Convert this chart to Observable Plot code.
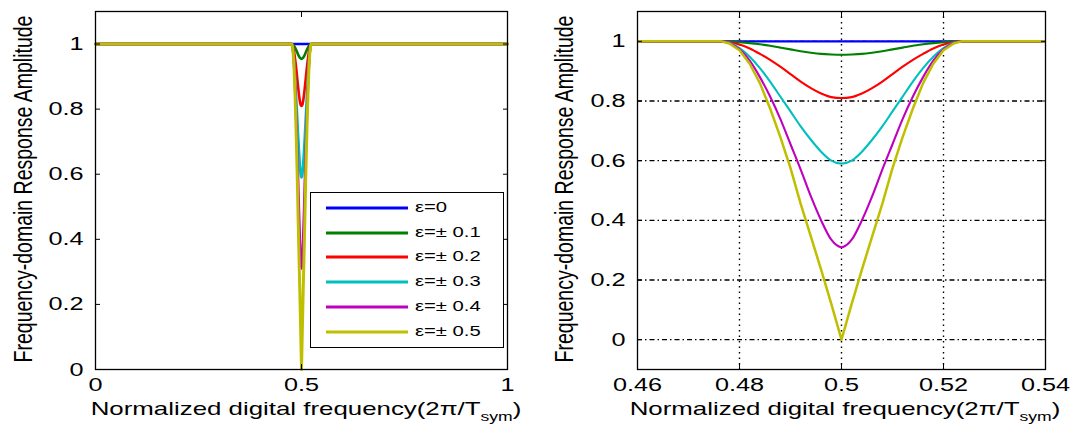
<!DOCTYPE html>
<html><head><meta charset="utf-8">
<script src="https://cdn.jsdelivr.net/npm/d3@7"></script>
<script src="https://cdn.jsdelivr.net/npm/@observablehq/plot@0.6"></script>
<style>
body{margin:0;background:#fff;width:1075px;height:427px;overflow:hidden;position:relative;font-family:"Liberation Sans",Arial,sans-serif;color:#000;}
.panel{position:absolute;top:0;}
.ytitle{position:absolute;font-size:19.5px;white-space:nowrap;transform:translate(-50%,-50%) rotate(-90deg) scaleY(1.3);line-height:1;}
.xtitle{position:absolute;font-size:19px;white-space:nowrap;transform:translateX(-50%) scaleX(1.36);line-height:1;}
.xtitle sub{font-size:0.68em;vertical-align:-0.5em;line-height:0;}
.legend{position:absolute;left:310px;top:192px;width:192px;height:154px;border:1.5px solid #000;background:#fff;}
.lrow{position:absolute;left:0;height:20px;}
.lrow svg{position:absolute;left:14px;top:8px;}
.lrow span{position:absolute;left:104px;top:1px;font-size:15px;white-space:nowrap;transform:scaleX(1.35);transform-origin:left center;}
</style></head>
<body>
<div id="left" class="panel" style="left:0"></div>
<div id="right" class="panel" style="left:540px"></div>
<script>
// ---- data ----
const freq = [0, 0.46, 0.4765, 0.478, 0.480, 0.482, 0.484, 0.486, 0.488, 0.490, 0.492, 0.494, 0.496, 0.498, 0.500,
  0.502, 0.504, 0.506, 0.508, 0.510, 0.512, 0.514, 0.516, 0.518, 0.520, 0.522, 0.5235, 0.54, 1];
const eps0 = [1,1,1, 1,1,1,1,1,1,1,1,1,1,1, 1, 1,1,1,1,1,1,1,1,1,1,1, 1,1,1];
const eps1 = [1,1,1, .999,.997,.994,.99,.985,.979,.973,.967,.962,.958,.956, .955, .956,.958,.962,.967,.973,.979,.985,.99,.994,.997,.999, 1,1,1];
const eps2 = [1,1,1, .997,.989,.976,.958,.938,.915,.89,.865,.843,.825,.813, .81, .813,.825,.843,.865,.89,.915,.938,.958,.976,.989,.997, 1,1,1];
const eps3 = [1,1,1, .995,.977,.948,.91,.865,.815,.765,.715,.67,.63,.60, .59, .60,.63,.67,.715,.765,.815,.865,.91,.948,.977,.995, 1,1,1];
const eps4 = [1,1,1, .994,.973,.935,.88,.815,.74,.655,.57,.48,.40,.335, .31, .335,.40,.48,.57,.655,.74,.815,.88,.935,.973,.994, 1,1,1];
const eps5 = [1,1,1, .993,.97,.925,.86,.775,.68,.575,.455,.345,.235,.12, 0, .12,.235,.345,.455,.575,.68,.775,.86,.925,.97,.993, 1,1,1];
const seriesNames = ["ε=0", "ε=± 0.1", "ε=± 0.2", "ε=± 0.3", "ε=± 0.4", "ε=± 0.5"];
const seriesColors = ["#0000ff", "#008000", "#ff0000", "#00bfbf", "#bf00bf", "#bfbf00"];
const seriesValues = [eps0, eps1, eps2, eps3, eps4, eps5];
const yTicks = [0, 0.2, 0.4, 0.6, 0.8, 1];
const xTicksLeft = [0, 0.5, 1];
const xTicksRight = [0.46, 0.48, 0.5, 0.52, 0.54];
const gridXRight = [0.48, 0.5, 0.52];
const yTitle = "Frequency-domain Response Amplitude";

const tables = seriesValues.map((vals, s) => vals.map((v, i) => ({f: freq[i], a: v, s: seriesNames[s]})));

function lineMarks(width, clip) {
  return tables.map((t, s) => Plot.line(t, {x: "f", y: "a", stroke: seriesColors[s],
    strokeWidth: s === 5 ? width + 0.4 : width, curve: s === 5 ? "linear" : "monotone-x", clip}));
}

const fmt = d => `${d}`;
function axes(xt) {
  return [
    Plot.axisX(xt, {anchor: "bottom", tickSize: -5, tickPadding: 13, label: null, fontSize: 19, tickFormat: fmt}),
    Plot.axisX(xt, {anchor: "top", tickSize: -5, fill: "none", label: null}),
    Plot.axisY(yTicks, {anchor: "left", tickSize: -5, tickPadding: 17, label: null, fontSize: 19, tickFormat: fmt}),
    Plot.axisY(yTicks, {anchor: "right", tickSize: -5, fill: "none", label: null}),
  ];
}

function stretch(svg, k) {
  svg.querySelectorAll('g[aria-label$="tick label"] text').forEach(t => {
    const tr = t.getAttribute("transform");
    if (tr) t.setAttribute("transform", tr + ` scale(${k},1)`);
    else {
      const x = +t.getAttribute("x") || 0, y = +t.getAttribute("y") || 0;
      t.setAttribute("x", 0); t.setAttribute("y", 0);
      t.setAttribute("transform", `translate(${x},${y}) scale(${k},1)`);
    }
  });
}

const common = {height: 395, marginTop: 11, marginBottom: 26,
  style: {fontFamily: "Liberation Sans, Arial, sans-serif", fontSize: "19px", background: "#fff", overflow: "visible", color: "#000"}};

const left = Plot.plot({
  ...common, width: 540, marginLeft: 95, marginRight: 33,
  x: {domain: [0, 1], axis: null},
  y: {domain: [0, 1.1], axis: null},
  marks: [...lineMarks(2.6, false), Plot.frame({stroke: "#000", strokeWidth: 1.3}), ...axes(xTicksLeft)]
});
stretch(left, 1.33);
document.getElementById("left").append(left);

const right = Plot.plot({
  ...common, width: 535, marginLeft: 97, marginRight: 30,
  x: {domain: [0.46, 0.54], axis: null},
  y: {domain: [-0.1, 1.1], axis: null},
  marks: [
    Plot.gridX(gridXRight, {stroke: "#000", strokeOpacity: 1, strokeWidth: 1.4, strokeDasharray: "1.5,4"}),
    Plot.gridY(yTicks, {stroke: "#000", strokeOpacity: 1, strokeWidth: 1.3, strokeDasharray: "5,3,1.5,3"}),
    ...lineMarks(2.1, true), Plot.frame({stroke: "#000", strokeWidth: 1.3}), ...axes(xTicksRight)]
});
stretch(right, 1.33);
document.getElementById("right").append(right);

// titles
function addText(cls, x, y, html) {
  const d = document.createElement("div");
  d.className = cls; d.style.left = x + "px"; d.style.top = y + "px"; d.innerHTML = html;
  document.body.append(d);
}
addText("ytitle", 24, 189, yTitle);
addText("ytitle", 565, 189, yTitle);
const xTitle = "Normalized digital frequency(2π/T<sub>sym</sub>)";
addText("xtitle", 306, 399, xTitle);
addText("xtitle", 845, 399, xTitle);

// legend
const lg = document.createElement("div");
lg.className = "legend";
seriesNames.forEach((n, i) => {
  const r = document.createElement("div");
  r.className = "lrow";
  r.style.top = (4 + i * 24.7) + "px";
  r.innerHTML = `<svg width="84" height="6"><line x1="1" x2="83" y1="3" y2="3" stroke="${seriesColors[i]}" stroke-width="3"/></svg><span>${n}</span>`;
  lg.append(r);
});
document.body.append(lg);
</script>
</body></html>
